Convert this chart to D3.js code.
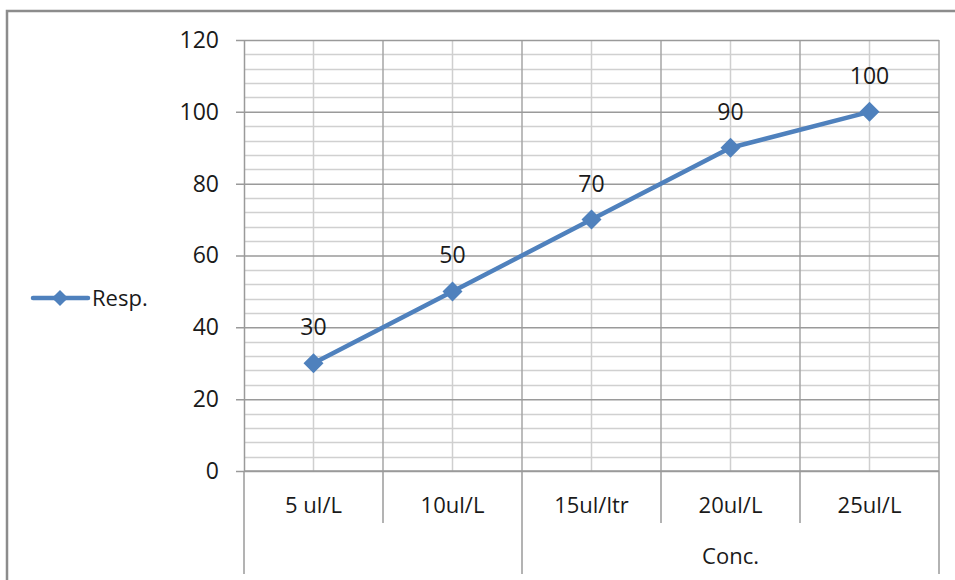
<!DOCTYPE html>
<html>
<head>
<meta charset="utf-8">
<script src="https://cdn.jsdelivr.net/npm/d3@7"></script>
<style>
  body { margin: 0; background: #fff; }
  text { font-family: "Open Sans", "Noto Sans", sans-serif; fill: #1a1a1a; }
</style>
</head>
<body>
<div id="chart"></div>
<script>
// data
const categories = ["5 ul/L", "10ul/L", "15ul/ltr", "20ul/L", "25ul/L"];
const groups = [{label: "", span: 2}, {label: "Conc.", span: 3}];
const respValues = [30, 50, 70, 90, 100];
const yTicks = [0, 20, 40, 60, 80, 100, 120];
const seriesName = "Resp.";

const W = 955, H = 580;
const margin = {left: 244, top: 40, right: 16, bottom: 109};
const innerW = W - margin.left - margin.right;
const innerH = H - margin.top - margin.bottom;
const blue = "#4f81bd";

const svg = d3.select("#chart").append("svg")
    .attr("width", W)
    .attr("height", H);

// outer chart border (right/bottom edges sit outside the frame)
svg.append("rect")
    .attr("x", 7).attr("y", 11)
    .attr("width", W + 20).attr("height", H + 20)
    .attr("fill", "none")
    .attr("stroke", "#8c8c8c")
    .attr("stroke-width", 2.5);

const chart = svg.append("g")
    .attr("transform", `translate(${margin.left},${margin.top})`);

const x = d3.scaleBand().domain(categories).range([0, innerW]);
const y = d3.scaleLinear().domain([0, 120]).range([innerH, 0]);

// minor horizontal gridlines every 4
chart.append("g")
    .selectAll("line")
    .data(d3.range(0, 121, 4).filter(v => v % 20 !== 0))
    .join("line")
        .attr("x1", 0).attr("x2", innerW)
        .attr("y1", d => Math.round(y(d)) + 0.5)
        .attr("y2", d => Math.round(y(d)) + 0.5)
        .attr("stroke", "#d0d0d0")
        .attr("stroke-width", 1.5);

// minor vertical gridlines at category centres
chart.append("g")
    .selectAll("line")
    .data(categories)
    .join("line")
        .attr("x1", d => x(d) + x.bandwidth() / 2)
        .attr("x2", d => x(d) + x.bandwidth() / 2)
        .attr("y1", 0).attr("y2", innerH)
        .attr("stroke", "#cfcfcf")
        .attr("stroke-width", 1.5);

// major vertical gridlines at category boundaries
chart.append("g")
    .selectAll("line")
    .data(categories.slice(1).concat([null]))
    .join("line")
        .attr("x1", d => d ? x(d) : innerW)
        .attr("x2", d => d ? x(d) : innerW)
        .attr("y1", 0).attr("y2", innerH)
        .attr("stroke", "#a6a6a6")
        .attr("stroke-width", 1.5);

// y axis with major gridlines
const yAxis = d3.axisLeft(y)
    .tickValues(yTicks)
    .tickSize(-innerW)
    .tickPadding(0)
    .tickSizeOuter(0);

const yAxisG = chart.append("g").call(yAxis);
yAxisG.select(".domain").attr("stroke", "#9a9a9a").attr("stroke-width", 1.5);
yAxisG.selectAll(".tick line")
    .attr("x1", -8)
    .attr("stroke", "#9a9a9a")
    .attr("stroke-width", 1.5);
yAxisG.selectAll(".tick text")
    .attr("x", -25)
    .attr("font-size", 23)
    .attr("font-family", "'Open Sans', sans-serif")
    .attr("fill", "#1a1a1a");

// category axis: baseline, category ticks and labels
const xAxisG = chart.append("g").attr("transform", `translate(0,${innerH})`);
xAxisG.append("line")
    .attr("x1", 0).attr("x2", innerW)
    .attr("stroke", "#9a9a9a").attr("stroke-width", 1.5);

xAxisG.selectAll(".cat-tick")
    .data(categories.concat([null]))
    .join("line")
        .attr("class", "cat-tick")
        .attr("x1", d => d ? x(d) : innerW)
        .attr("x2", d => d ? x(d) : innerW)
        .attr("y1", 0).attr("y2", 52)
        .attr("stroke", "#9a9a9a")
        .attr("stroke-width", 1.5);

xAxisG.selectAll(".cat-label")
    .data(categories)
    .join("text")
        .attr("class", "cat-label")
        .attr("x", d => x(d) + x.bandwidth() / 2)
        .attr("y", 42)
        .attr("text-anchor", "middle")
        .attr("font-size", 22)
        .text(d => d);

// group level of the category axis
let start = 0;
const groupData = groups.map(g => {
    const g0 = x(categories[start]);
    start += g.span;
    const g1 = start < categories.length ? x(categories[start]) : innerW;
    return {label: g.label, x0: g0, x1: g1};
});

xAxisG.selectAll(".grp-tick")
    .data([groupData[0].x0].concat(groupData.map(d => d.x1)))
    .join("line")
        .attr("class", "grp-tick")
        .attr("x1", d => d).attr("x2", d => d)
        .attr("y1", 52).attr("y2", 103)
        .attr("stroke", "#9a9a9a")
        .attr("stroke-width", 1.5);

xAxisG.selectAll(".grp-label")
    .data(groupData)
    .join("text")
        .attr("class", "grp-label")
        .attr("x", d => (d.x0 + d.x1) / 2)
        .attr("y", 93)
        .attr("text-anchor", "middle")
        .attr("font-size", 22)
        .text(d => d.label);

// series line
const line = d3.line()
    .x((d, i) => x(categories[i]) + x.bandwidth() / 2)
    .y(d => y(d));

chart.append("path")
    .datum(respValues)
    .attr("d", line)
    .attr("fill", "none")
    .attr("stroke", blue)
    .attr("stroke-width", 4.5)
    .attr("stroke-linejoin", "round");

const diamond = d3.symbol().type(d3.symbolSquare).size(200);

chart.selectAll(".marker")
    .data(respValues)
    .join("path")
        .attr("class", "marker")
        .attr("d", diamond)
        .attr("transform", (d, i) =>
            `translate(${x(categories[i]) + x.bandwidth() / 2},${y(d)}) rotate(45)`)
        .attr("fill", blue);

// data labels
chart.selectAll(".data-label")
    .data(respValues)
    .join("text")
        .attr("class", "data-label")
        .attr("x", (d, i) => x(categories[i]) + x.bandwidth() / 2)
        .attr("y", d => y(d) - 28)
        .attr("text-anchor", "middle")
        .attr("font-size", 23)
        .text(d => d);

// legend
const legend = svg.append("g").attr("transform", "translate(33,298)");
legend.append("line")
    .attr("x1", 0).attr("x2", 55)
    .attr("stroke", blue).attr("stroke-width", 4.5)
    .attr("stroke-linecap", "round");
legend.append("path")
    .attr("d", d3.symbol().type(d3.symbolSquare).size(130))
    .attr("transform", "translate(27,0) rotate(45)")
    .attr("fill", blue);
legend.append("text")
    .attr("x", 59)
    .attr("y", 0)
    .attr("dy", "0.35em")
    .attr("font-size", 22)
    .text(seriesName);
</script>
</body>
</html>
